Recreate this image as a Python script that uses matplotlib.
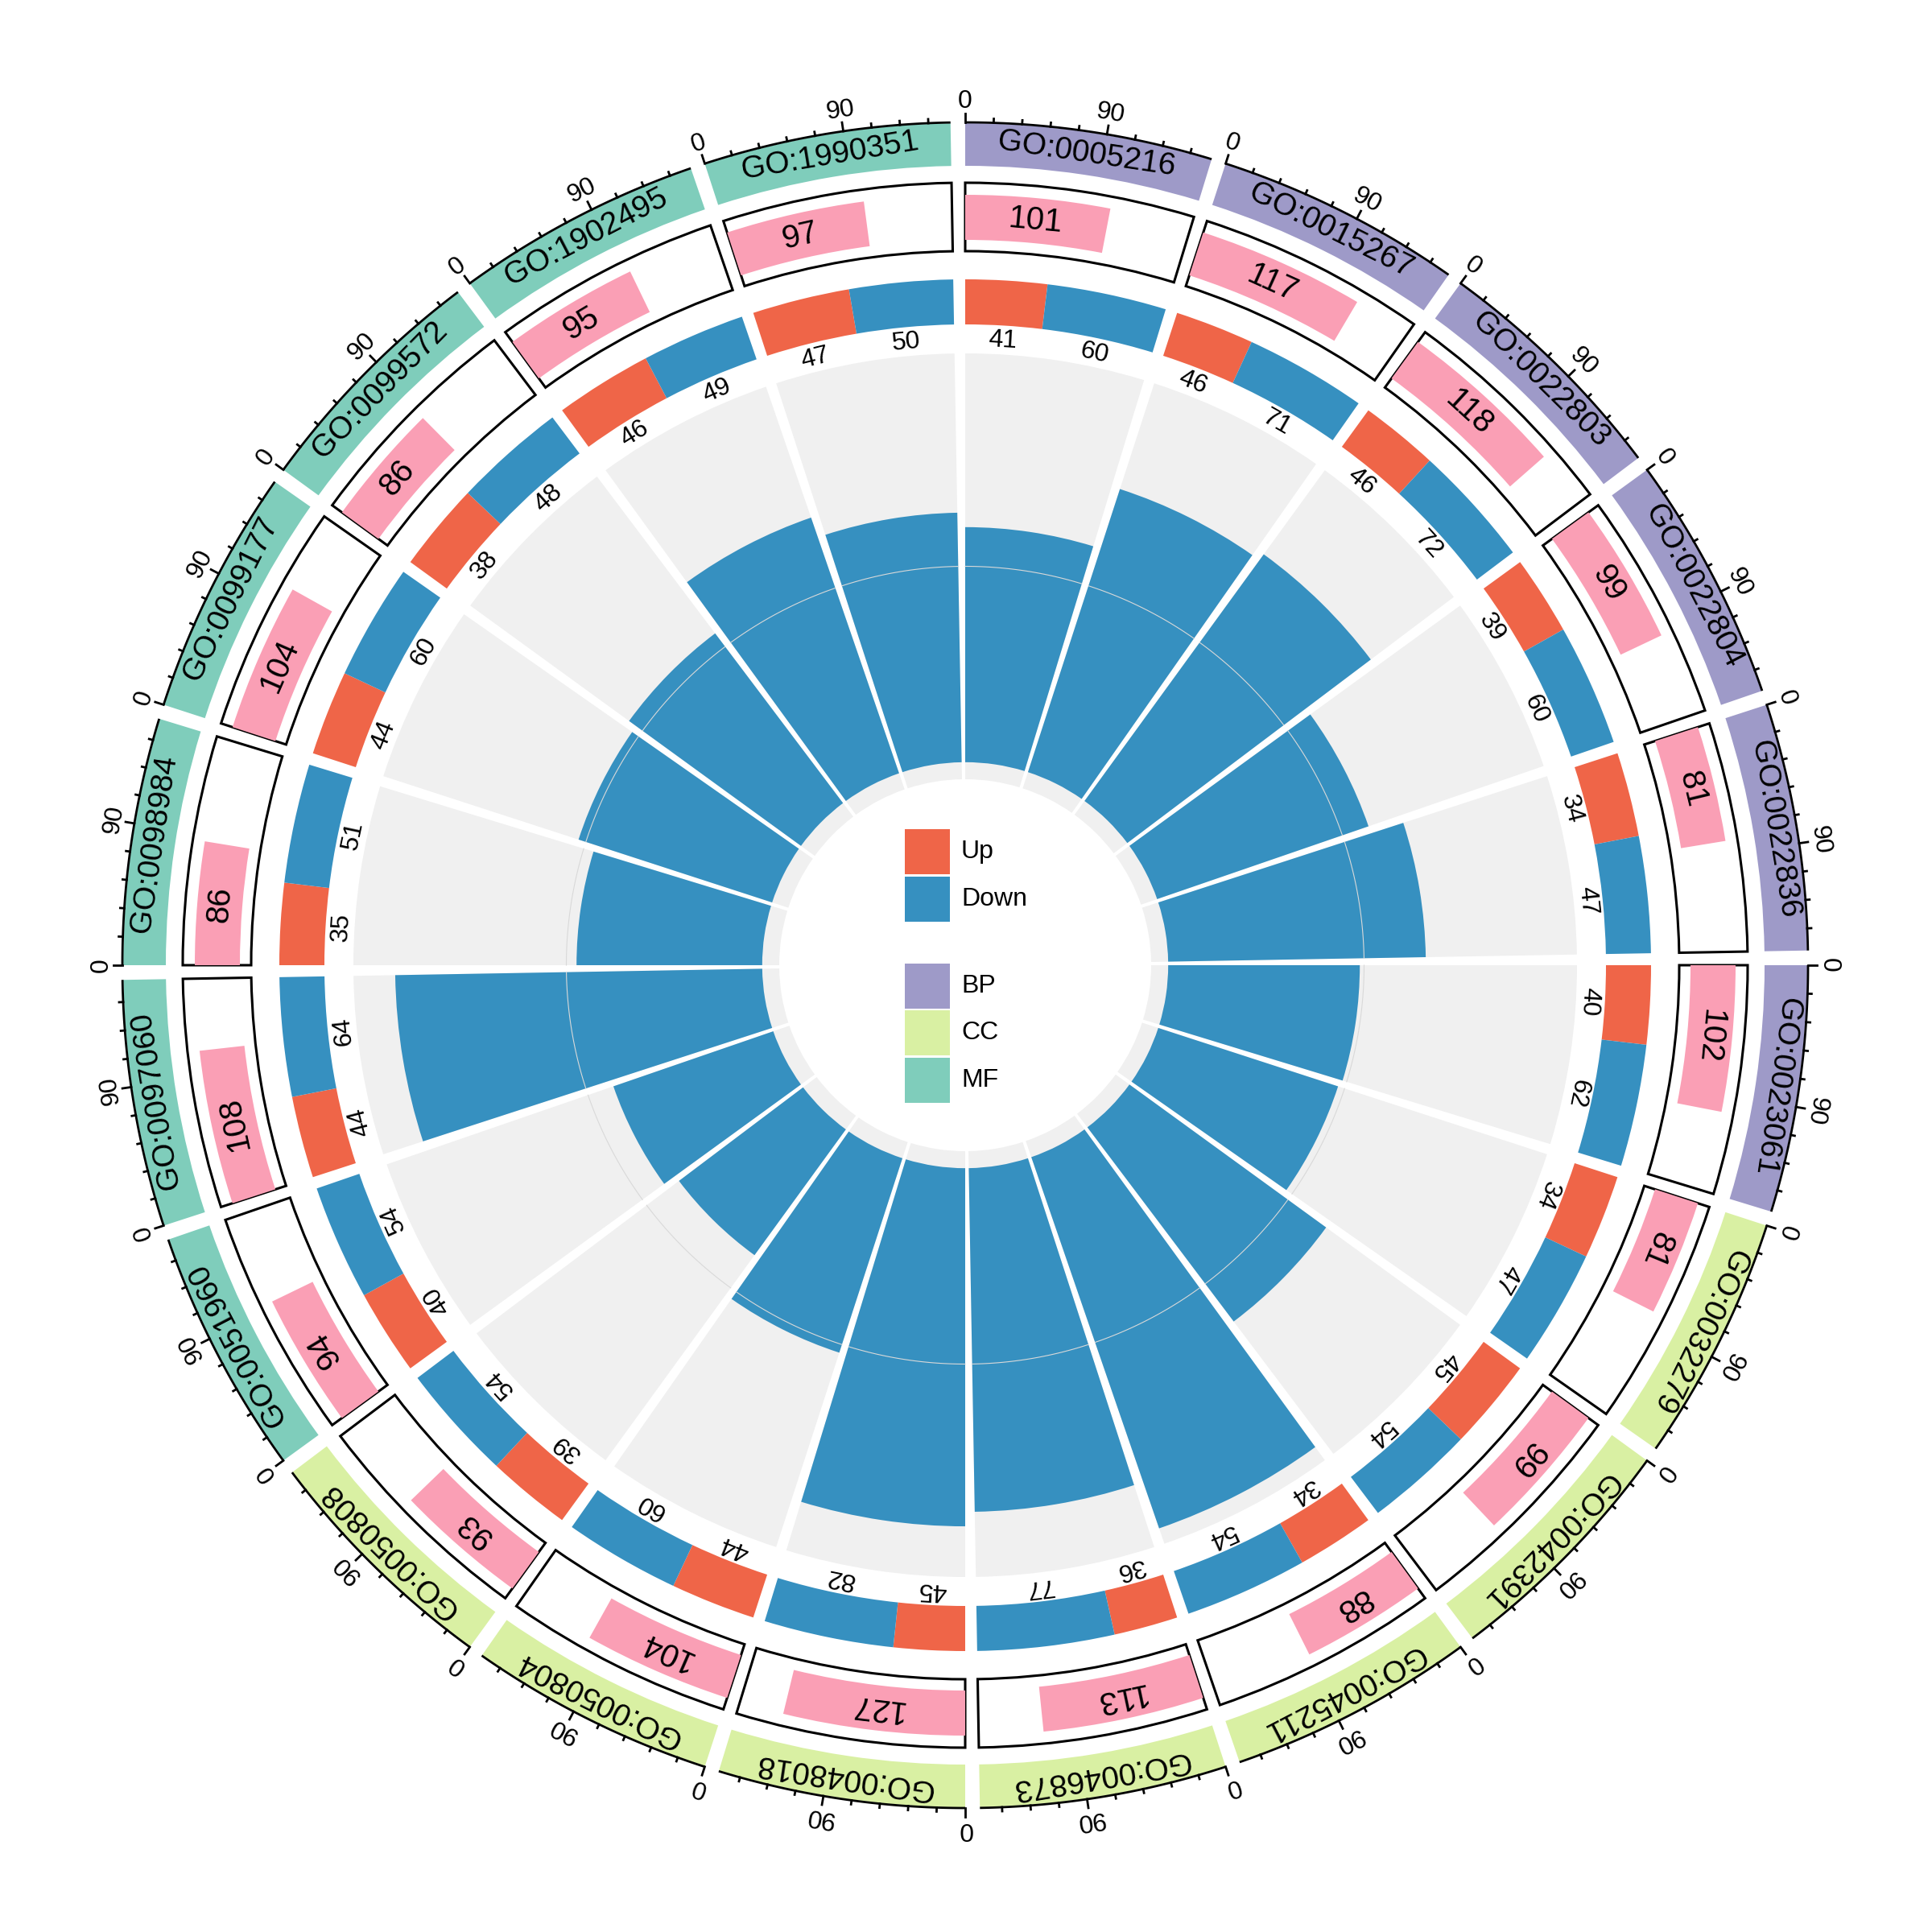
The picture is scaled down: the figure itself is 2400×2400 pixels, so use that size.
import numpy as np
import matplotlib
matplotlib.use("Agg")
import matplotlib.pyplot as plt
from matplotlib.patches import Wedge, Rectangle

plt.rcParams['font.family'] = ['Liberation Sans', 'DejaVu Sans']

# GO terms, clockwise from 12 o'clock
go_ids = ['GO:0005216', 'GO:0015267', 'GO:0022803', 'GO:0022804', 'GO:0022836',
          'GO:0023061', 'GO:0032279', 'GO:0042391', 'GO:0045211', 'GO:0046873',
          'GO:0048018', 'GO:0050804', 'GO:0050808', 'GO:0051960', 'GO:0097060',
          'GO:0098984', 'GO:0099177', 'GO:0099572', 'GO:1902495', 'GO:1990351']
ontology = ['BP'] * 6 + ['CC'] * 7 + ['MF'] * 7
up = [41, 46, 46, 39, 34, 40, 34, 45, 34, 36, 45, 44, 39, 40, 44, 35, 44, 38, 46, 47]
down = [60, 71, 72, 60, 47, 62, 47, 54, 54, 77, 82, 60, 54, 54, 64, 51, 60, 48, 49, 50]
gene_num = [101, 117, 118, 99, 81, 102, 81, 99, 88, 113, 127, 104, 93, 94, 108, 86, 104, 86, 95, 97]
# inner track (rich factor), scaled 0-1 on the track
rich = [0.592, 0.739, 0.756, 0.565, 0.645, 0.490, 0.484, 0.611, 0.962, 0.847,
        0.881, 0.520, 0.405, 0.437, 0.902, 0.476, 0.518, 0.539, 0.675, 0.626]

onto_col = {'BP': '#9E9AC8', 'CC': '#D9F0A3', 'MF': '#7FCDBB'}
col_up, col_down, col_pink = '#EF6548', '#3690C0', '#FA9FB5'

CX, CY = 1199, 1201
SEC_W, GAP = 17.0, 1.0
XMAX = 158.0          # sector length in gene units
tick_major, tick_minor = 90, 18


def xy(theta, r):
    t = np.deg2rad(theta)
    return CX + r * np.sin(t), CY + r * np.cos(t)


def ring(ax, t0, t1, r0, r1, **kw):
    ax.add_patch(Wedge((CX, CY), r1, 90 - t1, 90 - t0, width=r1 - r0, **kw))


def label(ax, theta, r, s, size, **kw):
    x, y = xy(theta, r)
    ax.text(x, y, s, rotation=-theta, rotation_mode='anchor', ha='center',
            va='center', fontsize=size, **kw)


fig = plt.figure(figsize=(12, 12), dpi=200)
ax = fig.add_axes([0, 0, 1, 1])
ax.set_xlim(0, 2400)
ax.set_ylim(0, 2400)
ax.set_aspect('equal')
ax.axis('off')

for i, gid in enumerate(go_ids):
    s = i * (SEC_W + GAP)
    e = s + SEC_W
    u2d = SEC_W / XMAX

    # outer band + axis
    ring(ax, s, e, 993, 1046, facecolor=onto_col[ontology[i]], edgecolor='none')
    label(ax, (s + e) / 2, 1019, gid, 14)
    th = np.linspace(s, e, 60)
    ax.plot(*xy(th, 1047), color='black', lw=1.0, solid_capstyle='butt')
    for v in np.arange(0, XMAX, tick_minor):
        t = s + v * u2d
        major = v % tick_major == 0
        r1 = 1058 if major else 1052
        ax.plot(*zip(xy(t, 1047), xy(t, r1)), color='black', lw=1.0)
        if major:
            label(ax, t, 1073, str(int(v)), 11.5)

    # gene number box
    ring(ax, s, e, 887, 972, facecolor='white', edgecolor='black', lw=1.1)
    ring(ax, s, s + gene_num[i] * u2d, 901, 957, facecolor=col_pink, edgecolor='none')
    label(ax, s + gene_num[i] * u2d / 2, 929, str(gene_num[i]), 14.5)

    # up / down proportions
    tot = up[i] + down[i]
    m = s + SEC_W * up[i] / tot
    ring(ax, s, m, 796, 852, facecolor=col_up, edgecolor='none')
    ring(ax, m, e, 796, 852, facecolor=col_down, edgecolor='none')
    label(ax, (s + m) / 2, 777, str(up[i]), 11.5)
    label(ax, (m + e) / 2, 777, str(down[i]), 11.5)

    # rich factor track
    r0, r1 = 231, 760
    ring(ax, s, e, r0, r1, facecolor='#F0F0F0', edgecolor='none')
    ring(ax, s, e, r0 + 0.04 * (r1 - r0), r0 + rich[i] * (r1 - r0),
         facecolor=col_down, edgecolor='none')
    ax.plot(*xy(th, r0 + 0.5 * (r1 - r0)), color='#D9D9D9', lw=0.4)

# legend in the middle
leg = [('Up', col_up, 1058), ('Down', col_down, 1117),
       ('BP', onto_col['BP'], 1225), ('CC', onto_col['CC'], 1283), ('MF', onto_col['MF'], 1342)]
for name, c, yc in leg:
    ax.add_patch(Rectangle((1124, 2400 - yc - 28), 56, 56, facecolor=c, edgecolor='none'))
    ax.text(1194, 2400 - yc, name, fontsize=11.5, ha='left', va='center')

fig.savefig('out.png', dpi=200, facecolor='white')
